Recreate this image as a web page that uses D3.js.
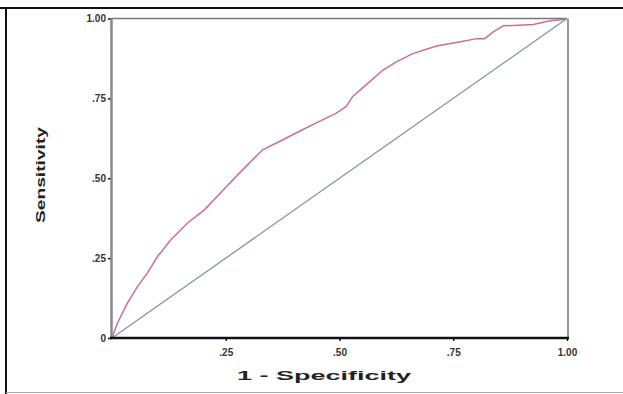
<!DOCTYPE html>
<html>
<head>
<meta charset="utf-8">
<script src="https://cdn.jsdelivr.net/npm/d3@7"></script>
<style>
  body { margin: 0; background: #fff; }
  svg { display: block; font-family: Arial, "Liberation Sans", sans-serif; }
</style>
</head>
<body>
<svg id="chart" width="623" height="394"></svg>
<script>
// ROC curve points (1 - specificity, sensitivity)
const fpr = [0, 0.012, 0.034, 0.056, 0.078, 0.10, 0.129, 0.166, 0.203, 0.245, 0.28, 0.309, 0.331, 0.368, 0.412, 0.456, 0.493, 0.515, 0.529, 0.559, 0.595, 0.625, 0.661, 0.713, 0.772, 0.801, 0.819, 0.838, 0.86, 0.926, 0.963, 0.992, 1];
const tpr = [0, 0.047, 0.11, 0.161, 0.204, 0.255, 0.307, 0.36, 0.401, 0.464, 0.516, 0.558, 0.589, 0.615, 0.647, 0.678, 0.704, 0.725, 0.756, 0.793, 0.838, 0.864, 0.89, 0.914, 0.929, 0.937, 0.937, 0.958, 0.977, 0.981, 0.993, 0.997, 1];
const refLine = [0, 1];

const xTicks = [0.25, 0.5, 0.75, 1];
const xTickLabels = [".25", ".50", ".75", "1.00"];
const yTicks = [0, 0.25, 0.5, 0.75, 1];
const yTickLabels = ["0", ".25", ".50", ".75", "1.00"];

const svg = d3.select("#chart");

// outer frame
svg.append("line").attr("x1", 0).attr("x2", 623).attr("y1", 8).attr("y2", 8)
  .attr("stroke", "#111").attr("stroke-width", 2);
svg.append("line").attr("x1", 6).attr("x2", 6).attr("y1", 8).attr("y2", 394)
  .attr("stroke", "#111").attr("stroke-width", 2);
svg.append("line").attr("x1", 6).attr("x2", 623).attr("y1", 392.5).attr("y2", 392.5)
  .attr("stroke", "#aaa").attr("stroke-width", 1);

const x = d3.scaleLinear().domain([0, 1]).range([112, 567]);
const y = d3.scaleLinear().domain([0, 1]).range([338, 18.5]);

// plot box
svg.append("line").attr("x1", x(0)).attr("x2", x(1)).attr("y1", y(1)).attr("y2", y(1))
  .attr("stroke", "#777").attr("stroke-width", 1.5);
svg.append("line").attr("x1", x(1) + 1).attr("x2", x(1) + 1).attr("y1", y(1)).attr("y2", y(0))
  .attr("stroke", "#999").attr("stroke-width", 2);

// reference diagonal
svg.append("line")
  .attr("x1", x(refLine[0])).attr("y1", y(refLine[0]))
  .attr("x2", x(refLine[1])).attr("y2", y(refLine[1]))
  .attr("stroke", "#7f9a8c").attr("stroke-width", 1.3);

// ROC curve
const line = d3.line().x((d, i) => x(fpr[i])).y((d, i) => y(tpr[i]));
svg.append("path")
  .datum(fpr)
  .attr("d", line)
  .attr("fill", "none")
  .attr("stroke", "#cc6f92")
  .attr("stroke-width", 1.5);

// axes
const xAxis = svg.append("g")
  .attr("transform", `translate(0,${y(0)})`)
  .call(d3.axisBottom(x).tickValues(xTicks).tickSize(3).tickPadding(8)
    .tickFormat((d, i) => xTickLabels[i]));
const yAxis = svg.append("g")
  .attr("transform", `translate(${x(0)},0)`)
  .call(d3.axisLeft(y).tickValues(yTicks).tickSize(4).tickPadding(2)
    .tickFormat((d, i) => yTickLabels[i]));

[xAxis, yAxis].forEach(a => {
  a.select(".domain").remove();
  a.selectAll(".tick line").attr("stroke", "#111").attr("stroke-width", 1.5);
  a.selectAll(".tick text")
    .attr("font-size", 10).attr("font-weight", "bold").attr("fill", "#333")
    .attr("font-family", "Arial, 'Liberation Sans', sans-serif");
});

svg.append("line").attr("x1", x(0) - 0.5).attr("x2", x(0) - 0.5).attr("y1", y(1)).attr("y2", y(0))
  .attr("stroke", "#888").attr("stroke-width", 2.5);
svg.append("line").attr("x1", x(0) - 2).attr("x2", x(1) + 2).attr("y1", y(0)).attr("y2", y(0))
  .attr("stroke", "#111").attr("stroke-width", 2.5);

// axis titles
svg.append("text")
  .attr("x", 237).attr("y", 380)
  .attr("font-size", 12).attr("font-weight", "bold").attr("fill", "#222")
  .attr("textLength", 174).attr("lengthAdjust", "spacingAndGlyphs")
  .text("1 - Specificity");

svg.append("text")
  .attr("transform", "translate(45,223) rotate(-90)")
  .attr("font-size", 12).attr("font-weight", "bold").attr("fill", "#222")
  .attr("textLength", 96).attr("lengthAdjust", "spacingAndGlyphs")
  .text("Sensitivity");
</script>
</body>
</html>
